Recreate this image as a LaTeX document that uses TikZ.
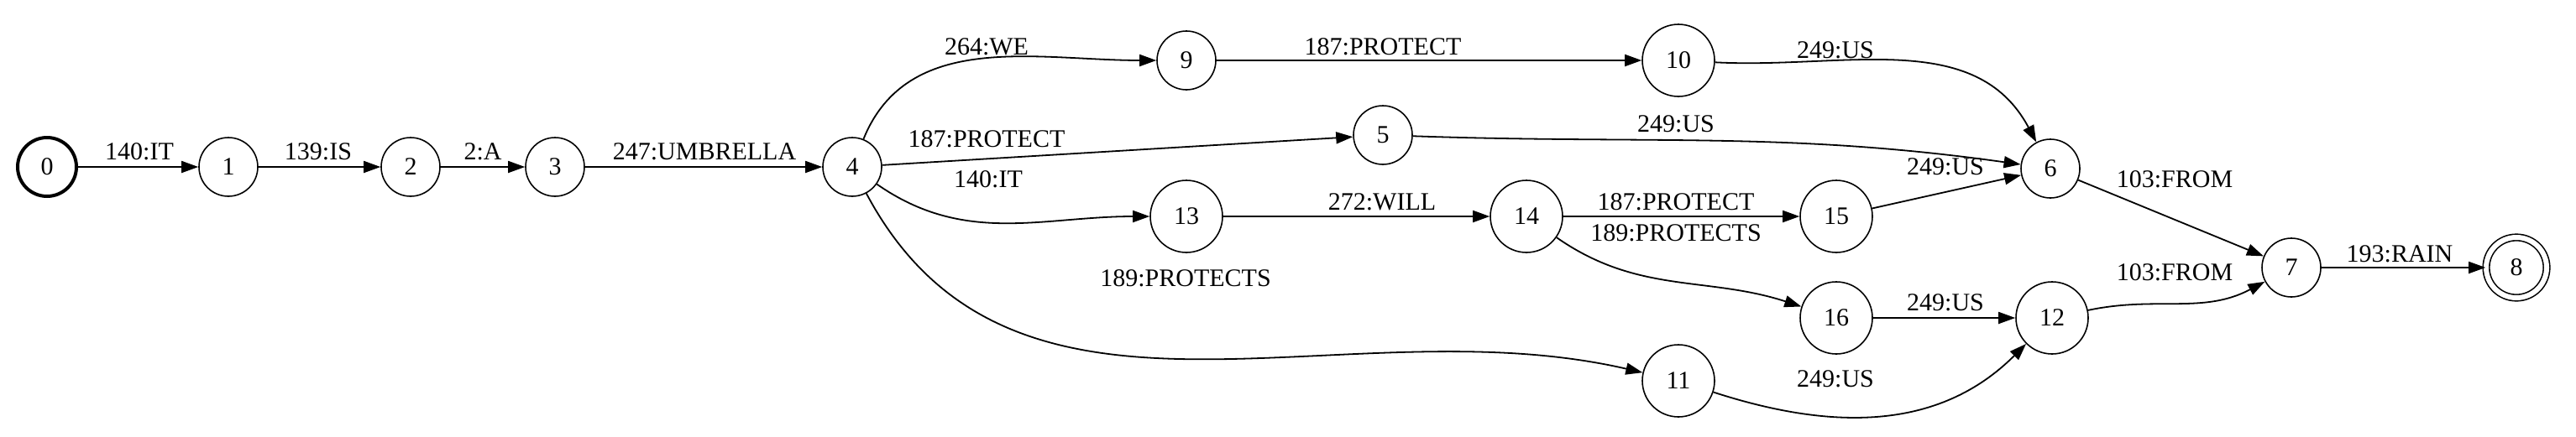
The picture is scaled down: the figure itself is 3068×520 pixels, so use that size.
\documentclass[tikz,border=0pt]{standalone}
\usepackage{fontspec}
\setmainfont{Liberation Serif}
\usetikzlibrary{arrows.meta}
\begin{document}
\begin{tikzpicture}[x=0.5pt,y=-0.5pt,
  st/.style={draw,circle,line width=0.8pt,minimum size=35pt,inner sep=0pt,font=\fontsize{15}{17}\selectfont},
  stw/.style={st,minimum size=43pt},
  lb/.style={font=\fontsize{15}{17}\selectfont,inner sep=0pt},
  ed/.style={line width=0.9pt,-{Triangle[length=10pt,width=7pt]}}]
\useasboundingbox (0,0) rectangle (3068,520);
\node[st,line width=2pt] (n0) at (56,199) {0};
\node[st] (n1) at (272,199) {1};
\node[st] (n2) at (489,199) {2};
\node[st] (n3) at (661,199) {3};
\node[st] (n4) at (1015,199) {4};
\node[st] (n9) at (1413,72) {9};
\node[stw] (n10) at (1999,72) {10};
\node[st] (n5) at (1647,161) {5};
\node[stw] (n13) at (1413,258) {13};
\node[stw] (n14) at (1818,258) {14};
\node[stw] (n11) at (1999,454) {11};
\node[st] (n6) at (2442,201) {6};
\node[stw] (n15) at (2187,258) {15};
\node[stw] (n16) at (2187,379) {16};
\node[stw] (n12) at (2444,379) {12};
\node[st] (n7) at (2729,319) {7};
\node[st,double,double distance=3pt,minimum size=36pt] (n8) at (2997,319) {8};

\draw[ed] (n0) -- (n1);
\draw[ed] (n1) -- (n2);
\draw[ed] (n2) -- (n3);
\draw[ed] (n3) -- (n4);
\draw[ed] (n4) to[out=68,in=180] (n9);
\draw[ed] (n9) -- (n10);
\draw[ed] (n4) -- (n5);
\draw[ed] (n4) to[out=-35,in=180] (n13);
\draw[ed] (n13) -- (n14);
\draw[ed] (n4) to[out=-62,in=167] (n11);
\draw[ed] (n10) to[out=-3,in=118] (n6);
\draw[ed] (n5) to[out=-2,in=172] (n6);
\draw[ed] (n14) -- (n15);
\draw[ed] (n14) to[out=-35,in=162] (n16);
\draw[ed] (n15) -- (n6);
\draw[ed] (n16) -- (n12);
\draw[ed] (n11) to[out=-18,in=-135] (n12);
\draw[ed] (n6) -- (n7);
\draw[ed] (n12) to[out=12,in=-152] (n7);
\draw[ed] (n7) -- (n8);

\node[lb] (l01) at (166,181) {140:IT};
\node[lb] (l12) at (379,181) {139:IS};
\node[lb] (l23) at (575,181) {2:A};
\node[lb] (l34) at (839,181) {247:UMBRELLA};
\node[lb] (l49) at (1175,56) {264:WE};
\node[lb] (l910) at (1647,56) {187:PROTECT};
\node[lb] (l45) at (1175,166) {187:PROTECT};
\node[lb] (l413) at (1177,214) {140:IT};
\node[lb] (l1314) at (1646,241) {272:WILL};
\node[lb] (l1415) at (1996,241) {187:PROTECT};
\node[lb] (l1416) at (1996,278) {189:PROTECTS};
\node[lb] (l411) at (1412,332) {189:PROTECTS};
\node[lb] (l56) at (1996,148) {249:US};
\node[lb] (l106) at (2186,60) {249:US};
\node[lb] (l156) at (2317,199) {249:US};
\node[lb] (l67) at (2590,214) {103:FROM};
\node[lb] (l127) at (2590,325) {103:FROM};
\node[lb] (l78) at (2858,303) {193:RAIN};
\node[lb] (l1612) at (2317,361) {249:US};
\node[lb] (l1112) at (2186,452) {249:US};
\end{tikzpicture}
\end{document}
